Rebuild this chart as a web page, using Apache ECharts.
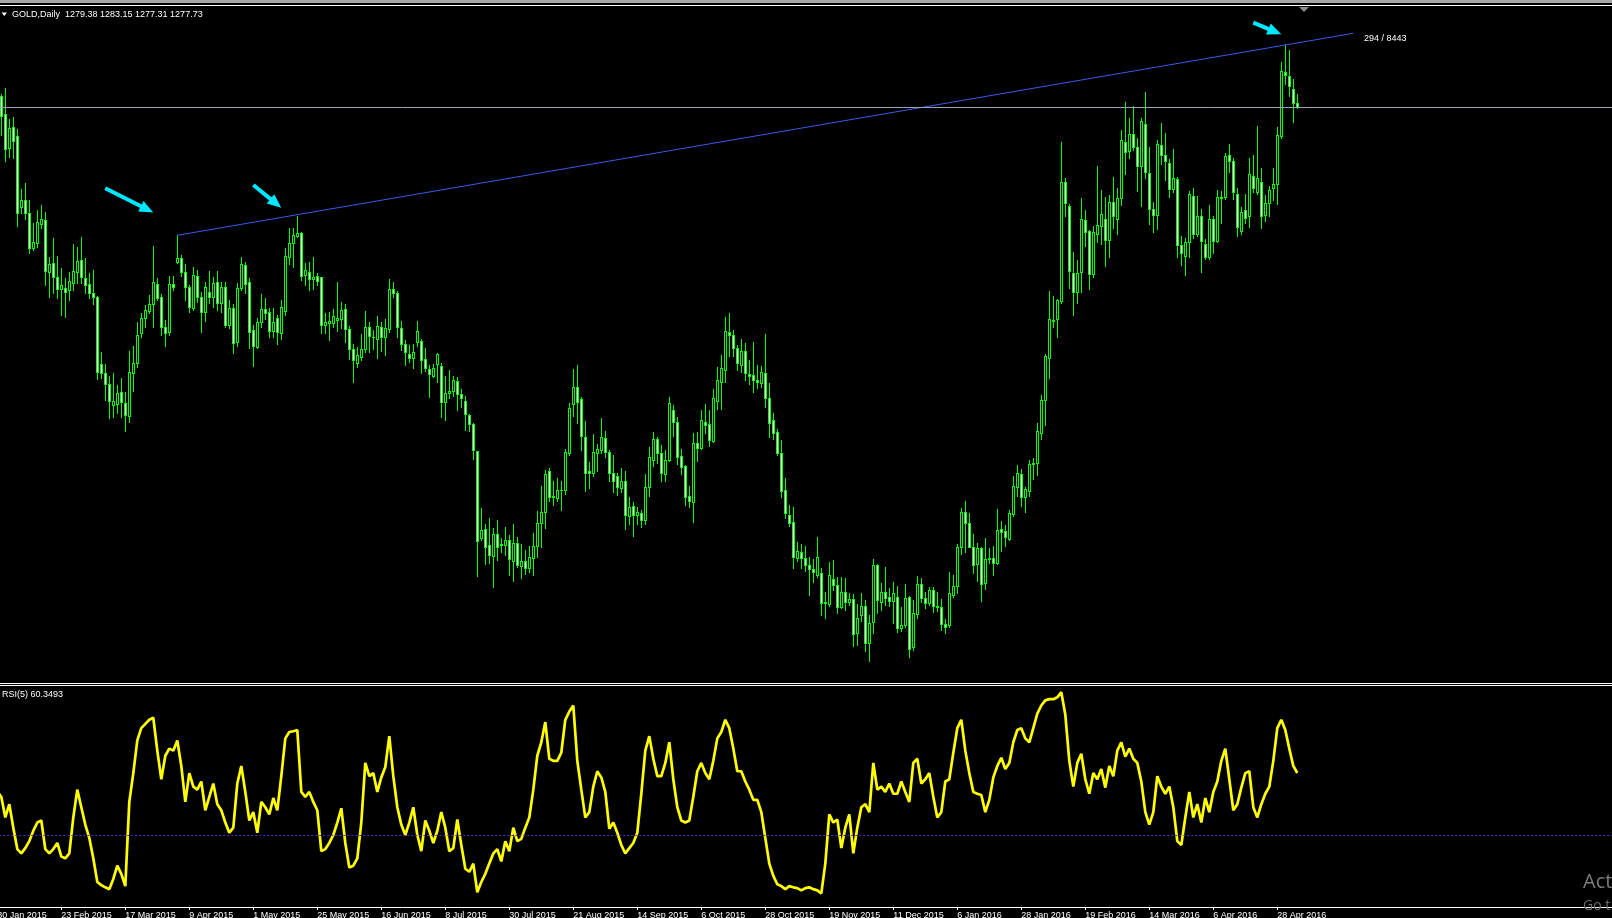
<!DOCTYPE html>
<html><head><meta charset="utf-8">
<script src="https://cdn.jsdelivr.net/npm/echarts/dist/echarts.min.js"></script>
<style>html,body{margin:0;padding:0;background:#000;overflow:hidden}#c{width:1612px;height:918px}</style>
</head><body><div id="c"></div>
<script>
// ---- data ----
const dateLabels = ['30 Jan 2015','23 Feb 2015','17 Mar 2015','9 Apr 2015','1 May 2015','25 May 2015','16 Jun 2015','8 Jul 2015','30 Jul 2015','21 Aug 2015','14 Sep 2015','6 Oct 2015','28 Oct 2015','19 Nov 2015','11 Dec 2015','6 Jan 2016','28 Jan 2016','19 Feb 2016','14 Mar 2016','6 Apr 2016','28 Apr 2016'];
const opens = [1262.0,1282.2,1274.6,1260.3,1269.1,1265.5,1235.7,1238.8,1233.2,1218.6,
1220.6,1228.7,1230.4,1208.8,1212.3,1206.4,1201.4,1201.8,1201.1,1203.9,
1208.8,1213.7,1206.0,1203.6,1199.7,1198.1,1170.2,1166.3,1161.9,1153.1,
1153.5,1158.7,1153.8,1148.6,1166.6,1170.8,1183.3,1189.3,1192.5,1195.2,
1203.5,1198.1,1185.5,1183.4,1203.6,1213.0,1214.4,1208.5,1202.3,1193.8,
1207.0,1198.1,1192.1,1200.2,1198.1,1204.3,1195.6,1202.3,1186.5,1193.5,
1179.5,1201.8,1211.4,1204.6,1184.4,1177.5,1187.6,1193.1,1191.8,1184.1,
1189.3,1183.0,1192.5,1215.1,1220.6,1223.7,1225.1,1207.4,1208.8,1205.6,
1207.0,1206.4,1186.5,1187.3,1187.5,1188.8,1188.9,1193.1,1184.7,1176.4,
1170.5,1173.3,1176.4,1185.6,1181.4,1180.6,1185.6,1181.4,1185.0,1201.5,
1199.8,1185.2,1178.5,1174.4,1172.6,1179.6,1180.0,1172.2,1168.2,1165.2,
1170.1,1169.4,1154.5,1158.0,1159.0,1163.2,1157.6,1154.8,1148.7,1145.2,
1133.8,1097.4,1101.2,1094.6,1090.0,1099.2,1094.5,1094.6,1096.7,1087.7,
1095.3,1085.6,1087.7,1084.9,1089.0,1094.2,1103.9,1108.5,1125.3,1115.1,
1114.1,1117.6,1117.6,1133.2,1153.5,1160.5,1155.5,1139.9,1125.5,1124.6,
1132.9,1134.1,1139.2,1133.3,1124.8,1123.2,1118.3,1121.1,1106.5,1110.9,
1107.1,1107.9,1104.8,1119.0,1129.9,1138.8,1132.9,1124.1,1130.1,1150.9,
1145.8,1131.7,1127.6,1115.0,1112.6,1137.3,1134.9,1146.1,1145.1,1138.1,
1154.8,1162.8,1167.9,1183.7,1182.3,1176.7,1169.8,1175.6,1166.0,1165.6,
1163.5,1162.4,1166.3,1155.8,1146.8,1141.6,1132.8,1117.5,1106.9,1104.0,
1089.2,1091.5,1089.0,1086.2,1084.4,1082.0,1083.0,1070.2,1069.7,1080.2,
1077.7,1068.8,1074.8,1070.9,1071.8,1057.6,1065.1,1069.0,1053.4,1062.5,
1086.0,1070.6,1074.8,1072.7,1071.3,1072.9,1059.7,1061.0,1072.7,1051.8,
1065.7,1078.1,1072.2,1070.2,1075.7,1069.0,1068.5,1061.5,1061.0,1073.5,
1077.4,1093.8,1108.4,1103.6,1093.8,1086.6,1093.1,1078.8,1088.5,1089.0,
1086.9,1101.1,1100.3,1097.0,1107.5,1119.0,1124.4,1114.5,1117.2,1128.4,
1128.8,1141.4,1155.1,1172.7,1188.6,1188.9,1196.6,1246.2,1236.2,1208.3,
1200.5,1208.6,1230.2,1225.9,1208.0,1224.7,1227.7,1231.0,1222.0,1237.8,
1231.0,1239.6,1263.2,1259.3,1266.5,1260.8,1252.8,1270.7,1250.1,1234.9,
1232.5,1261.7,1257.5,1254.3,1243.4,1247.4,1219.9,1215.4,1221.0,1240.4,
1224.7,1231.9,1220.5,1215.0,1230.7,1221.7,1239.6,1239.9,1257.5,1254.9,
1241.4,1225.9,1234.4,1231.9,1248.9,1241.9,1246.3,1232.5,1237.4,1243.8,
1245.3,1265.5,1292.2,1290.7,1285.2,1279.38];
const highs = [1284.0,1283.0,1285.6,1272.5,1273.6,1268.3,1243.4,1245.7,1238.8,1229.0,
1234.6,1236.7,1233.9,1215.1,1222.7,1215.3,1210.2,1206.0,1208.8,1220.2,
1219.2,1223.4,1214.6,1208.1,1209.5,1198.6,1175.4,1170.2,1165.2,1166.3,
1161.4,1164.2,1158.7,1175.8,1177.7,1187.9,1191.4,1194.9,1199.1,1219.5,
1206.0,1199.5,1188.6,1207.0,1207.0,1224.0,1215.8,1212.0,1203.2,1210.9,
1209.5,1200.4,1204.6,1209.2,1206.7,1209.2,1204.6,1204.6,1197.0,1195.3,
1203.9,1215.1,1213.0,1206.0,1186.5,1189.3,1199.5,1197.7,1193.5,1193.5,
1190.7,1197.0,1218.6,1226.9,1226.9,1232.1,1225.5,1212.3,1213.0,1215.1,
1208.4,1206.7,1191.4,1192.1,1193.1,1204.3,1196.3,1195.3,1186.1,1178.6,
1177.2,1182.8,1192.4,1187.8,1184.5,1190.3,1187.8,1188.9,1205.6,1204.3,
1200.9,1188.2,1180.3,1178.2,1178.6,1188.0,1180.6,1177.1,1169.8,1170.3,
1175.0,1170.5,1165.0,1167.8,1165.2,1164.7,1159.7,1156.9,1149.4,1145.7,
1133.8,1109.9,1103.4,1105.8,1101.6,1105.1,1097.4,1102.0,1098.8,1103.4,
1097.8,1095.0,1092.5,1094.2,1099.5,1108.9,1119.3,1126.0,1126.7,1121.1,
1122.5,1121.5,1134.6,1153.8,1168.0,1169.8,1156.6,1146.2,1129.4,1141.0,
1136.8,1147.6,1142.0,1134.3,1132.2,1124.8,1126.7,1125.3,1114.8,1112.7,
1110.4,1109.0,1124.3,1135.4,1141.8,1139.9,1136.4,1134.2,1156.5,1153.0,
1148.2,1134.5,1128.0,1119.2,1141.2,1141.9,1151.0,1153.5,1151.0,1159.6,
1168.8,1173.9,1189.7,1191.6,1184.4,1178.1,1180.5,1178.8,1171.8,1179.5,
1169.8,1169.3,1182.7,1162.4,1149.8,1142.9,1138.4,1122.4,1111.3,1110.3,
1095.9,1094.9,1094.1,1089.7,1088.5,1097.7,1084.8,1075.0,1087.3,1088.3,
1081.0,1081.0,1080.6,1074.6,1074.1,1069.9,1074.3,1071.5,1065.3,1088.5,
1086.6,1078.8,1085.2,1076.4,1079.2,1077.4,1068.5,1078.2,1073.2,1071.5,
1081.6,1080.6,1075.0,1076.8,1076.8,1075.0,1071.8,1063.5,1083.4,1082.0,
1094.9,1109.9,1113.1,1108.0,1099.1,1095.2,1093.6,1097.3,1093.1,1094.1,
1109.4,1104.5,1103.0,1109.0,1123.2,1127.9,1126.2,1118.7,1129.9,1130.9,
1145.6,1157.2,1174.5,1200.8,1198.6,1197.5,1262.8,1247.8,1237.0,1216.9,
1213.5,1239.6,1234.4,1226.2,1228.0,1253.1,1242.9,1239.9,1240.8,1248.3,
1243.8,1268.0,1279.6,1273.2,1278.1,1264.7,1273.2,1283.7,1260.8,1237.8,
1263.8,1271.0,1266.8,1255.8,1260.2,1248.3,1223.5,1222.9,1242.6,1243.8,
1240.4,1235.2,1222.5,1236.6,1232.2,1242.9,1242.6,1258.3,1262.3,1256.4,
1243.8,1235.9,1241.4,1256.4,1257.5,1269.8,1252.3,1240.8,1244.8,1252.3,
1269.2,1296.4,1303.5,1301.6,1289.2,1283.15];
const lows = [1258.0,1265.9,1255.2,1256.6,1256.2,1228.0,1233.5,1230.7,1216.5,1217.9,
1219.2,1226.9,1203.2,1198.4,1199.7,1197.7,1190.7,1190.0,1197.0,1201.1,
1203.9,1203.9,1199.7,1197.7,1195.3,1163.8,1164.2,1155.2,1147.5,1148.2,
1149.6,1148.2,1142.4,1145.8,1159.1,1169.1,1181.6,1185.8,1191.4,1185.8,
1197.0,1182.3,1177.9,1182.3,1201.1,1212.6,1207.0,1197.0,1192.1,1192.8,
1196.3,1183.7,1188.3,1195.6,1193.9,1192.8,1192.1,1185.5,1185.1,1174.9,
1177.7,1201.1,1199.7,1176.8,1169.4,1176.8,1185.8,1188.9,1181.6,1181.3,
1178.6,1180.5,1190.7,1212.0,1210.6,1223.4,1205.3,1203.2,1201.1,1201.4,
1203.2,1183.0,1183.3,1180.3,1185.6,1184.2,1185.2,1179.2,1172.2,1162.5,
1168.9,1171.9,1175.4,1175.4,1176.4,1172.6,1175.8,1174.0,1183.4,1198.1,
1181.7,1176.1,1169.8,1171.2,1168.4,1177.8,1166.6,1167.1,1156.6,1164.7,
1162.5,1148.0,1146.9,1155.9,1156.9,1150.8,1152.4,1142.7,1142.0,1130.4,
1081.4,1096.7,1086.7,1087.2,1077.2,1088.1,1091.8,1090.4,1082.1,1079.7,
1085.3,1080.7,1082.5,1083.1,1082.1,1089.5,1093.6,1101.6,1113.1,1111.3,
1113.1,1109.2,1115.9,1132.2,1148.5,1145.5,1134.3,1117.3,1118.3,1123.5,
1125.3,1132.9,1131.5,1121.5,1116.5,1115.5,1116.9,1101.2,1103.4,1098.4,
1103.4,1102.0,1103.4,1115.1,1127.4,1129.0,1121.1,1121.4,1129.8,1140.1,
1128.4,1124.2,1111.3,1110.6,1104.3,1129.8,1134.5,1141.5,1135.9,1137.7,
1151.6,1151.6,1162.8,1173.5,1173.7,1167.9,1167.0,1163.5,1161.8,1158.6,
1160.0,1160.4,1152.1,1139.8,1138.7,1132.1,1114.5,1105.7,1102.5,1085.1,
1088.0,1084.8,1083.8,1073.6,1079.2,1081.0,1065.3,1063.9,1069.0,1075.7,
1066.3,1068.1,1067.4,1069.5,1052.3,1052.7,1062.9,1050.4,1046.2,1057.9,
1066.3,1067.4,1069.5,1069.0,1062.1,1058.3,1058.7,1060.4,1047.6,1050.7,
1063.9,1070.9,1068.1,1069.5,1066.7,1067.1,1059.0,1057.9,1060.4,1072.9,
1074.6,1090.8,1091.7,1093.6,1083.0,1079.6,1071.3,1076.0,1087.2,1082.0,
1086.6,1092.1,1094.1,1096.6,1106.8,1115.0,1110.9,1108.2,1115.0,1122.0,
1123.9,1138.9,1144.8,1164.2,1185.6,1181.4,1195.6,1232.2,1202.0,1190.7,
1195.6,1200.5,1219.5,1201.6,1206.5,1221.0,1220.5,1211.0,1215.0,1226.9,
1224.4,1236.6,1249.8,1256.4,1259.8,1242.6,1236.3,1247.8,1228.9,1225.4,
1226.5,1253.8,1247.1,1239.9,1241.9,1215.0,1211.6,1207.5,1215.0,1222.9,
1223.5,1208.6,1214.2,1214.2,1216.5,1221.4,1229.2,1239.0,1250.4,1239.3,
1223.5,1224.4,1229.2,1227.4,1241.9,1241.4,1226.9,1229.9,1231.9,1238.9,
1236.9,1264.7,1287.1,1282.2,1271.3,1277.31];
const closes = [1282.0,1273.9,1259.9,1268.7,1263.5,1233.5,1238.8,1233.2,1218.6,1221.3,
1229.4,1230.7,1209.2,1212.0,1206.4,1201.4,1203.2,1200.2,1204.9,1209.1,
1213.3,1206.4,1203.2,1199.7,1198.1,1167.0,1166.3,1161.9,1154.9,1154.9,
1158.0,1154.5,1148.9,1167.0,1170.8,1182.3,1189.3,1192.8,1195.3,1204.3,
1197.9,1185.5,1183.0,1203.6,1202.3,1214.4,1208.8,1202.3,1194.2,1207.4,
1198.4,1192.1,1202.3,1198.1,1203.9,1195.6,1202.3,1186.5,1193.5,1178.9,
1201.8,1211.9,1203.6,1183.7,1177.7,1187.6,1193.1,1191.7,1184.1,1187.9,
1183.7,1193.9,1215.4,1220.6,1224.1,1225.1,1207.0,1209.5,1205.7,1206.4,
1205.0,1186.5,1187.6,1188.2,1190.3,1189.3,1192.8,1184.7,1176.4,1171.9,
1173.9,1176.4,1185.6,1182.0,1181.4,1185.9,1181.7,1185.2,1201.5,1199.8,
1185.6,1178.6,1175.1,1172.6,1175.1,1184.1,1171.9,1168.4,1165.9,1168.4,
1174.4,1154.5,1158.0,1159.0,1163.6,1157.6,1155.8,1149.1,1145.0,1134.1,
1096.4,1100.9,1093.9,1090.4,1099.2,1093.6,1095.0,1096.7,1088.6,1095.3,
1086.3,1087.7,1084.9,1089.5,1094.2,1103.9,1108.5,1124.3,1114.8,1114.8,
1117.6,1117.6,1133.6,1151.7,1160.5,1154.5,1140.3,1124.8,1124.6,1133.3,
1134.6,1139.9,1133.6,1124.8,1121.5,1119.0,1121.1,1107.1,1110.4,1107.1,
1108.5,1104.8,1119.0,1131.3,1138.8,1132.9,1124.6,1130.1,1153.7,1146.1,
1131.4,1127.0,1114.5,1113.1,1137.3,1135.3,1146.8,1144.7,1138.4,1155.8,
1163.5,1168.4,1184.1,1182.3,1176.7,1170.5,1175.6,1166.6,1165.2,1163.5,
1162.5,1167.0,1155.8,1145.7,1141.5,1133.1,1117.2,1107.8,1103.6,1089.7,
1092.0,1089.2,1086.0,1084.6,1083.4,1089.4,1070.2,1070.9,1081.9,1077.7,
1068.8,1075.0,1070.9,1071.8,1057.3,1064.2,1069.0,1053.4,1061.8,1086.0,
1071.5,1074.8,1072.5,1071.3,1074.3,1059.7,1061.1,1072.2,1050.9,1066.0,
1078.1,1072.2,1070.2,1075.7,1069.0,1068.5,1061.5,1060.4,1074.3,1077.4,
1093.6,1108.4,1103.9,1093.8,1086.0,1093.1,1078.2,1088.5,1089.2,1086.9,
1100.8,1100.0,1097.8,1107.9,1119.4,1124.7,1114.5,1117.9,1128.4,1128.8,
1142.3,1155.1,1173.6,1188.9,1188.3,1197.1,1246.2,1237.4,1209.0,1200.1,
1208.3,1230.7,1225.4,1208.0,1225.4,1228.4,1232.9,1222.0,1238.1,1231.9,
1239.6,1263.8,1259.0,1266.5,1260.8,1252.8,1271.7,1250.4,1234.9,1232.5,
1262.0,1257.5,1254.9,1243.4,1247.8,1219.9,1216.5,1221.0,1241.4,1224.7,
1231.9,1221.7,1214.8,1231.0,1221.7,1239.9,1239.9,1257.2,1254.9,1241.9,
1227.4,1233.7,1231.4,1249.8,1243.8,1247.8,1232.2,1237.4,1242.9,1245.3,
1265.8,1292.6,1291.2,1286.2,1279.2,1277.73];
const rsi = [51.1,48.7,38.6,45.1,33.6,23.1,21.0,23.6,27.0,32.1,
36.1,37.1,23.1,21.0,23.1,26.1,19.5,18.6,21.0,38.6,
52.2,43.6,35.1,28.5,18.6,7.0,5.5,4.4,3.5,8.5,
15.0,11.0,5.0,46.2,60.3,76.3,82.3,84.4,86.4,87.4,
71.3,57.3,68.8,72.3,71.3,76.3,63.8,46.2,60.3,53.7,
52.2,56.2,42.1,48.7,55.2,45.1,42.1,36.1,31.1,33.6,
55.2,63.8,51.1,37.1,41.2,31.1,46.2,43.6,40.1,48.1,
42.1,58.8,77.3,80.4,80.8,81.4,51.1,48.7,51.1,46.2,
42.1,22.1,23.1,26.1,30.0,36.1,43.1,26.1,14.1,15.0,
18.6,36.1,65.3,58.8,60.3,51.1,58.2,63.3,78.4,58.8,
43.6,35.1,30.0,36.1,43.6,30.0,22.1,37.1,32.1,26.1,
32.1,41.2,33.6,22.1,23.6,37.6,25.1,13.5,12.0,16.0,
2.0,7.0,11.0,16.0,21.0,23.1,17.1,27.0,22.1,33.6,
27.0,28.1,33.6,38.6,52.2,68.8,75.4,85.3,67.3,66.3,
66.3,70.3,86.4,90.4,93.4,66.3,52.2,38.6,41.2,53.7,
61.2,58.2,51.1,33.1,36.1,31.1,25.1,21.0,23.6,26.1,
31.1,50.2,71.3,78.4,67.3,58.8,58.8,65.3,75.4,57.3,
43.6,37.1,36.1,37.1,48.7,61.2,65.3,60.3,57.3,66.3,
77.3,80.4,86.4,82.3,72.3,61.2,61.2,56.2,52.2,47.2,
47.2,41.2,28.5,16.0,10.0,5.9,5.0,3.5,5.0,4.4,
4.0,2.9,4.0,4.4,3.5,2.9,1.4,16.0,40.1,36.1,
37.6,23.6,33.6,40.1,21.0,33.6,43.6,45.1,41.2,65.3,
52.2,53.7,51.1,55.2,50.2,50.2,56.2,51.1,46.2,65.3,
67.3,55.2,57.3,60.3,48.7,38.6,41.2,56.2,57.3,70.3,
82.3,86.4,71.3,60.3,51.1,50.2,49.6,41.2,47.2,58.2,
63.8,67.8,62.3,65.3,75.4,81.4,82.3,77.3,75.4,82.3,
89.4,93.4,95.9,96.5,96.5,97.4,99.9,88.9,66.3,53.7,
65.3,69.8,57.3,50.2,60.3,57.3,62.3,53.2,63.8,58.8,
71.3,75.4,68.3,72.3,67.3,65.3,56.2,41.2,35.1,41.2,
58.8,53.7,50.2,53.7,43.6,27.0,25.1,38.6,51.1,38.6,
45.1,36.1,48.1,41.2,51.1,56.2,66.3,72.3,57.3,42.1,
45.1,53.2,60.3,61.2,43.6,38.6,45.1,50.2,53.7,66.3,
82.3,86.4,81.4,72.3,63.8,60.35];
const rsiLevel = 30;
const bidPrice = 1277.73;
const trendPoints = [[45, 1224.0], [192, 1266.215], [339, 1308.43]];   // bar index, price
const arrows = [[27.35, 1243.7, 39.4, 1233.5], [63.85, 1245.0, 71.35, 1235.5], [314.4, 1312.9, 320.7, 1308.0]];
const headerText = 'GOLD,Daily  1279.38 1283.15 1277.31 1277.73';
const rsiText = 'RSI(5) 60.3493';
const trendText = '294 / 8443';

// ---- chart ----
const SLOTS = 405, TICK_EVERY = 16;
const cats = Array.from({length: SLOTS}, (_, i) => String(i));
const LIME = '#00ff00', CYAN = '#00e8ff', FONT = 'Liberation Sans, Arial, sans-serif';
const gridBase = {left: -4.7, width: 1620, outerBoundsMode: 'none', containLabel: false};

function candle(params, api) {
  const k = api.value(0), o = api.value(1), h = api.value(2), l = api.value(3), c = api.value(4);
  const pO = api.coord([k, o]), pH = api.coord([k, h]), pL = api.coord([k, l]), pC = api.coord([k, c]);
  const cx = Math.floor(pO[0]);
  const yH = Math.round(pH[1]), yL = Math.round(pL[1]);
  const yT = Math.round(Math.min(pO[1], pC[1])), yB = Math.round(Math.max(pO[1], pC[1]));
  const ch = [
    {type: 'rect', shape: {x: cx, y: yH, width: 1, height: yL - yH + 1}, style: {fill: LIME}},
    {type: 'rect', shape: {x: cx - 1, y: yT, width: 3, height: yB - yT + 1}, style: {fill: LIME}}
  ];
  if (yB - yT >= 2) ch.push({type: 'rect', shape: {x: cx, y: yT + 1, width: 1, height: yB - yT - 1}, style: {fill: c >= o ? '#000000' : '#ffffff'}});
  return {type: 'group', children: ch};
}
function arrow(params, api) {
  const a = api.coord([api.value(0), api.value(1)]), b = api.coord([api.value(2), api.value(3)]);
  const dx = b[0] - a[0], dy = b[1] - a[1], len = Math.hypot(dx, dy);
  const ux = dx / len, uy = dy / len, px = -uy, py = ux, hl = 14, hw = 6;
  const bx = b[0] - ux * hl, by = b[1] - uy * hl;
  return {type: 'group', children: [
    {type: 'line', shape: {x1: a[0], y1: a[1], x2: bx + ux * 3, y2: by + uy * 3}, style: {stroke: CYAN, lineWidth: 4, lineCap: 'butt'}},
    {type: 'polygon', shape: {points: [[b[0], b[1]], [bx + px * hw, by + py * hw], [bx - px * hw, by - py * hw]]}, style: {fill: CYAN}}
  ]};
}

const chart = echarts.init(document.getElementById('c'), null, {renderer: 'canvas'});
chart.setOption({
  backgroundColor: '#000000',
  animation: false,
  grid: [
    Object.assign({top: 0, height: 918}, gridBase),
    Object.assign({top: 692.0, height: 204.3}, gridBase),
    Object.assign({top: 0, height: 907}, gridBase)
  ],
  xAxis: [
    {gridIndex: 0, type: 'category', data: cats, show: false},
    {gridIndex: 1, type: 'category', data: cats, show: false},
    {gridIndex: 2, type: 'category', data: cats,
      axisLine: {show: true, lineStyle: {color: '#ffffff', width: 1}},
      axisTick: {show: true, alignWithLabel: true, length: 3, lineStyle: {color: '#ffffff'},
        interval: (i) => i % TICK_EVERY === 0 && i / TICK_EVERY < dateLabels.length},
      axisLabel: {show: true, color: '#ffffff', fontSize: 9, fontFamily: FONT, align: 'left', margin: 4,
        interval: (i) => i % TICK_EVERY === 0 && i / TICK_EVERY < dateLabels.length,
        formatter: (v, i) => dateLabels[Number(v) / TICK_EVERY] || ''},
      splitLine: {show: false}}
  ],
  yAxis: [
    {gridIndex: 0, type: 'value', min: 938.65, max: 1322.35, show: false, splitLine: {show: false}},
    {gridIndex: 1, type: 'value', min: 0, max: 100, show: false, splitLine: {show: false}},
    {gridIndex: 2, type: 'value', min: 0, max: 1, show: false, splitLine: {show: false}}
  ],
  series: [
    {type: 'custom', name: 'GOLD', xAxisIndex: 0, yAxisIndex: 0, silent: true, z: 2,
      renderItem: candle, encode: {x: 0, y: [1, 2, 3, 4]},
      data: opens.map((o, i) => [i, o, highs[i], lows[i], closes[i]])},
    {type: 'line', name: 'trend', xAxisIndex: 0, yAxisIndex: 0, silent: true, z: 3,
      data: trendPoints, symbol: 'rect', symbolSize: 5, showSymbol: true,
      lineStyle: {color: '#3b5be6', width: 1},
      itemStyle: {color: '#ffffff', borderColor: '#3b5be6', borderWidth: 1},
      markLine: {silent: true, symbol: ['none', 'none'], label: {show: false},
        lineStyle: {color: '#9aa4b4', width: 1, type: 'solid'}, data: [{yAxis: bidPrice}]}},
    {type: 'custom', name: 'arrows', xAxisIndex: 0, yAxisIndex: 0, silent: true, z: 4,
      renderItem: arrow, encode: {x: [0, 2], y: [1, 3]}, data: arrows},
    {type: 'line', name: 'RSI(5)', xAxisIndex: 1, yAxisIndex: 1, silent: true, z: 3,
      data: rsi.map((v, i) => [i, v]), showSymbol: false, symbol: 'none',
      lineStyle: {color: '#ffff00', width: 2.7},
      markLine: {silent: true, symbol: ['none', 'none'], label: {show: false},
        lineStyle: {color: '#5a2fb0', width: 1, type: [2, 2]}, data: [{yAxis: rsiLevel}]}}
  ],
  graphic: [
    {type: 'rect', shape: {x: 0, y: 0, width: 1612, height: 3}, style: {fill: '#a8a8a8'}, silent: true},
    {type: 'rect', shape: {x: 0, y: 5, width: 1612, height: 1}, style: {fill: '#ffffff'}, silent: true},
    {type: 'rect', shape: {x: 0, y: 683, width: 1612, height: 1}, style: {fill: '#ffffff'}, silent: true},
    {type: 'rect', shape: {x: 0, y: 685, width: 1612, height: 1}, style: {fill: '#ffffff'}, silent: true},
    {type: 'polygon', shape: {points: [[1299, 7], [1309, 7], [1304, 12]]}, style: {fill: '#8a8a8a'}, silent: true},
    {type: 'polygon', shape: {points: [[1.5, 12.5], [7, 12.5], [4.25, 16]]}, style: {fill: '#ffffff'}, silent: true},
    {type: 'text', x: 12, y: 15, style: {text: headerText, fill: '#ffffff', font: '9px ' + FONT, textVerticalAlign: 'middle', verticalAlign: 'middle'}, silent: true},
    {type: 'text', x: 2, y: 694.5, style: {text: rsiText, fill: '#ffffff', font: '9px ' + FONT, textVerticalAlign: 'middle', verticalAlign: 'middle'}, silent: true},
    {type: 'text', x: 1364, y: 38.5, style: {text: trendText, fill: '#ffffff', font: '9px ' + FONT, textVerticalAlign: 'middle', verticalAlign: 'middle'}, silent: true},
    {type: 'text', x: 1583, y: 882, style: {text: 'Act', fill: '#7c7c7c', font: '20px "Open Sans", sans-serif', textVerticalAlign: 'middle', verticalAlign: 'middle'}, silent: true, z: 100},
    {type: 'text', x: 1583, y: 906, style: {text: 'Go t', fill: '#6e6e6e', font: '14px "Open Sans", sans-serif', textVerticalAlign: 'middle', verticalAlign: 'middle'}, silent: true, z: 100}
  ]
});
</script>
</body></html>
